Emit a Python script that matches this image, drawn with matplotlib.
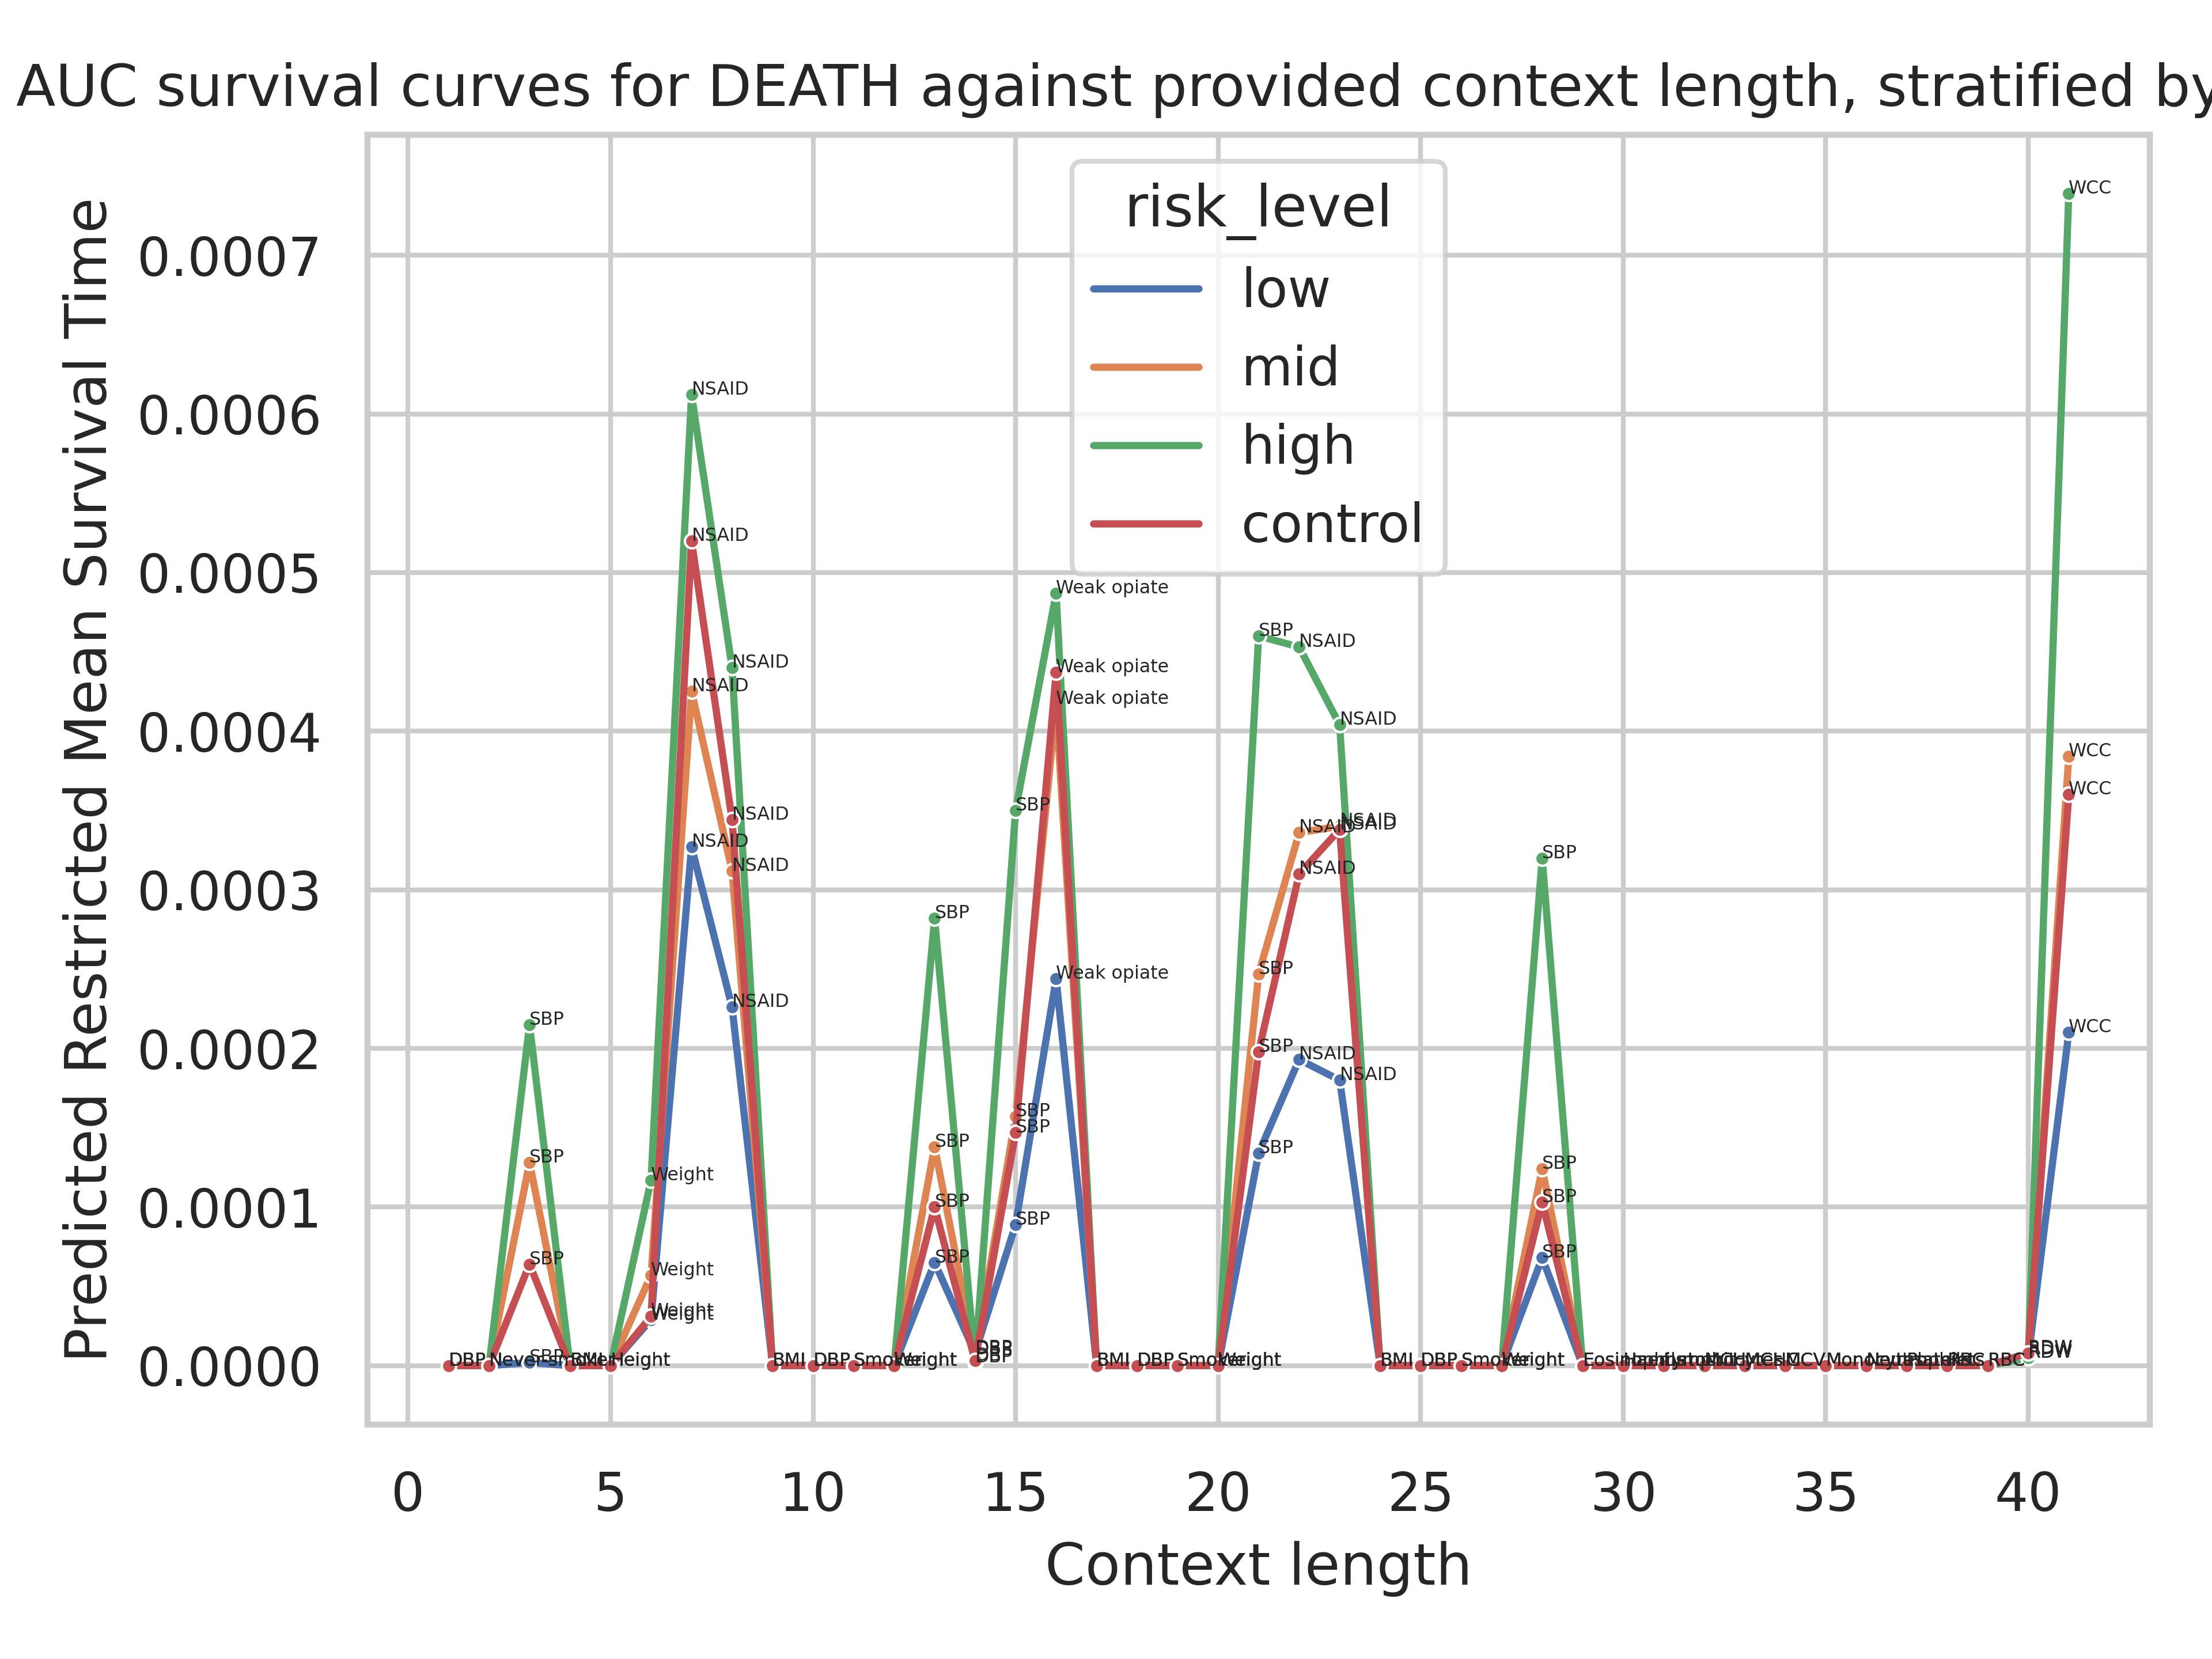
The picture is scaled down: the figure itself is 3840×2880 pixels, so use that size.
import matplotlib
matplotlib.use("Agg")
import matplotlib.pyplot as plt
from matplotlib.lines import Line2D
import numpy as np
import seaborn as sns

context = list(range(1, 42))
tokens = ["DBP", "Never-smoker", "SBP", "BMI", "Height", "Weight", "NSAID", "NSAID",
          "BMI", "DBP", "Smoker", "Weight", "SBP", "DBP", "SBP", "Weak opiate",
          "BMI", "DBP", "Smoker", "Weight", "SBP", "NSAID", "NSAID",
          "BMI", "DBP", "Smoker", "Weight", "SBP", "Eosinophils", "Haematocrit",
          "Lymphocytes", "MCH", "MCHC", "MCV", "Monocytes", "Neutrophils",
          "Platelets", "RBC", "RBC", "RDW", "WCC"]


def series(vals):
    out = np.zeros(41)
    for k, v in vals.items():
        out[k - 1] = v
    return out


low = series({3: 0.000002, 6: 0.000029, 7: 0.000327, 8: 0.000226, 13: 0.000065, 14: 0.000008,
              15: 0.000089, 16: 0.000244, 21: 0.000134, 22: 0.000193, 23: 0.00018,
              28: 0.000068, 40: 0.000005, 41: 0.00021})
mid = series({3: 0.000128, 6: 0.000057, 7: 0.000425, 8: 0.000312, 13: 0.000138, 14: 0.000007,
              15: 0.000157, 16: 0.000417, 21: 0.000247, 22: 0.000336, 23: 0.00034,
              28: 0.000124, 40: 0.000007, 41: 0.000384})
high = series({3: 0.000215, 6: 0.000117, 7: 0.000612, 8: 0.00044, 13: 0.000282, 14: 0.000002,
               15: 0.00035, 16: 0.000487, 21: 0.00046, 22: 0.000453, 23: 0.000404,
               28: 0.00032, 40: 0.000005, 41: 0.000739})
control = series({3: 0.000064, 6: 0.000031, 7: 0.00052, 8: 0.000344, 13: 0.0001, 14: 0.000003,
                  15: 0.000147, 16: 0.000437, 21: 0.000198, 22: 0.00031, 23: 0.000338,
                  28: 0.000103, 40: 0.000008, 41: 0.00036})

sns.set_theme(style="whitegrid")

fig, ax = plt.subplots(figsize=(6.4, 4.8), dpi=600)
handles = []
for name, vals in [("low", low), ("mid", mid), ("high", high), ("control", control)]:
    line, = ax.plot(context, vals, marker="o", markersize=3, markeredgecolor="white",
                    markeredgewidth=0.5, linewidth=1.5)
    handles.append(Line2D([], [], color=line.get_color(), linewidth=1.5, label=name))
    for x, y, t in zip(context, vals, tokens):
        ax.text(x, y, t, fontsize=3.8)

ax.set_title("AUC survival curves for DEATH against provided context length, stratified by risk level")
ax.set_xlabel("Context length")
ax.set_ylabel("Predicted Restricted Mean Survival Time")
ax.legend(handles=handles, title="risk_level", loc="upper center")
plt.tight_layout()
plt.savefig("out.png")
